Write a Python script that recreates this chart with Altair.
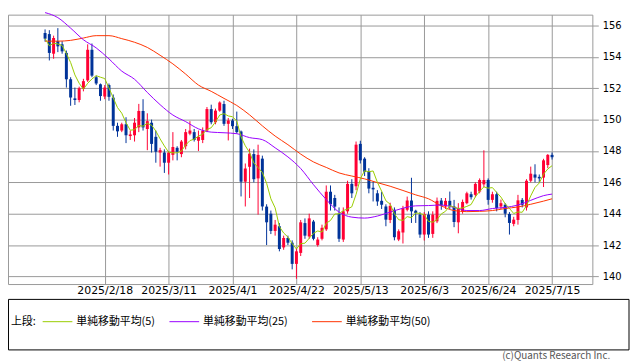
import altair as alt
import numpy as np
import pandas as pd

# ---------------- data ----------------
dates = pd.bdate_range("2025-01-29", "2025-07-15")

opens = [155.52, 155.45, 154.2, 155.0, 154.8, 154.25, 152.57, 151.35, 151.25, 151.95,
         152.5, 154.45, 152.7, 152.25, 151.47, 152.2, 151.4, 149.6, 149.3, 149.7,
         148.95, 149.0, 149.5, 150.55, 149.4, 149.8, 148.9, 147.9, 147.9, 147.25,
         147.75, 148.2, 147.8, 148.3, 149.1, 149.2, 148.65, 148.7, 149.3, 150.67,
         149.83, 150.57, 150.99, 149.73, 149.94, 149.58, 149.24, 146.04, 146.99, 147.8,
         146.25, 147.51, 144.45, 144.0, 142.9, 143.2, 141.85, 142.45, 142.15, 140.8,
         141.5, 143.4, 142.55, 143.5, 142.0, 142.4, 143.0, 145.4, 145.0, 144.0,
         142.35, 144.15, 145.9, 145.75, 148.45, 147.51, 146.7, 145.65, 145.3, 144.82,
         144.46, 143.6, 144.25, 142.35, 142.8, 144.25, 144.84, 144.19, 143.94, 142.67,
         143.94, 142.71, 143.51, 144.84, 144.46, 144.82, 144.46, 143.45, 144.15, 144.67,
         145.24, 145.2, 145.41, 145.87, 146.15, 144.88, 145.24, 144.46, 144.57, 143.98,
         143.35, 143.6, 144.88, 144.4, 146.1, 146.5, 146.35, 146.3, 147.1, 147.75]
highs = [155.75, 155.7, 155.35, 155.83, 155.0, 154.4, 152.7, 152.04, 152.1, 152.6,
         154.8, 154.85, 152.8, 152.3, 152.2, 152.3, 151.6, 149.8, 149.8, 150.15,
         149.3, 150.1, 151.0, 151.3, 150.4, 150.0, 149.3, 148.2, 148.1, 148.0,
         149.2, 148.3, 148.7, 149.4, 149.9, 149.4, 149.3, 149.5, 150.8, 150.95,
         150.7, 151.16, 151.2, 150.1, 150.05, 150.51, 149.3, 147.2, 148.15, 148.1,
         148.4, 147.7, 144.6, 144.2, 143.6, 143.4, 142.6, 142.6, 142.3, 141.8,
         143.6, 143.7, 144.0, 143.6, 142.5, 143.3, 145.8, 145.8, 145.2, 144.4,
         144.4, 146.1, 146.2, 148.6, 148.65, 147.6, 146.9, 146.04, 145.5, 145.4,
         144.6, 144.7, 144.4, 143.0, 144.5, 145.09, 146.29, 144.25, 144.1, 144.1,
         144.15, 144.15, 145.03, 145.0, 145.0, 145.41, 144.88, 144.67, 144.9, 145.4,
         145.4, 146.0, 146.25, 148.04, 146.25, 145.4, 145.4, 144.9, 144.67, 144.1,
         143.8, 145.2, 145.0, 146.2, 147.0, 147.15, 146.5, 147.5, 147.8, 147.9]
lows = [154.97, 153.77, 153.88, 154.3, 154.2, 152.04, 150.88, 150.93, 151.1, 151.8,
        152.4, 152.7, 152.2, 151.2, 151.3, 151.2, 149.3, 148.9, 149.2, 148.5,
        148.7, 148.6, 149.2, 149.3, 148.05, 147.9, 147.25, 147.0, 146.6, 146.5,
        147.4, 147.4, 147.6, 148.1, 149.0, 148.6, 148.0, 148.5, 149.2, 149.7,
        149.7, 150.5, 149.6, 148.67, 149.4, 149.1, 145.1, 144.46, 145.0, 146.0,
        143.94, 144.2, 142.0, 142.7, 142.6, 141.6, 141.7, 142.0, 140.45, 139.85,
        141.3, 142.4, 142.4, 142.3, 141.9, 142.3, 142.9, 144.2, 144.2, 142.2,
        142.2, 144.0, 145.0, 145.5, 147.2, 146.4, 145.3, 144.78, 144.5, 144.3,
        143.2, 143.4, 142.3, 142.25, 142.1, 144.15, 143.41, 143.41, 142.46, 142.29,
        142.46, 142.46, 143.4, 144.25, 144.3, 144.3, 143.14, 142.75, 144.0, 144.6,
        144.9, 145.05, 145.3, 145.7, 144.57, 144.7, 144.15, 144.3, 143.77, 142.67,
        143.2, 143.3, 144.4, 144.2, 146.0, 146.0, 146.0, 145.7, 146.9, 147.45]
closes = [155.16, 154.25, 155.2, 154.67, 154.35, 152.57, 151.41, 151.25, 152.0, 152.45,
          154.45, 152.8, 152.3, 151.5, 152.04, 151.45, 149.6, 149.25, 149.7, 149.0,
          149.05, 149.8, 150.55, 149.5, 149.9, 148.45, 147.95, 148.05, 147.25, 147.9,
          148.25, 147.95, 148.6, 149.2, 149.3, 148.7, 148.9, 149.3, 150.67, 149.83,
          150.57, 151.09, 149.73, 149.94, 149.58, 149.2, 146.04, 146.88, 147.83, 146.2,
          147.75, 144.46, 143.45, 142.9, 143.3, 141.75, 142.45, 142.15, 140.8, 141.6,
          143.45, 142.6, 143.7, 142.4, 142.35, 143.1, 145.4, 144.6, 144.45, 142.4,
          144.15, 145.9, 145.3, 148.4, 147.4, 146.67, 145.6, 145.55, 144.78, 144.57,
          143.62, 144.5, 142.5, 142.88, 144.35, 144.84, 144.15, 144.04, 142.67, 143.98,
          142.67, 143.94, 144.82, 144.52, 144.82, 144.46, 143.47, 144.35, 144.75, 145.3,
          145.05, 145.9, 146.15, 146.15, 144.88, 145.24, 144.36, 144.67, 144.0, 143.41,
          143.62, 144.85, 144.57, 146.1, 146.55, 146.3, 146.25, 147.4, 147.75, 147.6]

ma25_idx = [0, 3, 6, 9, 12, 15, 18, 21, 24, 27, 30, 33, 36, 39, 42, 45, 48, 51, 54, 57,
            60, 63, 66, 69, 72, 75, 78, 81, 84, 87, 90, 93, 96, 99, 102, 105, 108, 111,
            114, 117, 119]
ma25_val = [156.82, 156.5, 155.83, 155.09, 154.57, 153.87, 153.09, 152.57, 151.73, 150.95,
            150.29, 149.87, 149.41, 149.2, 149.16, 149.1, 148.85, 148.72, 148.2, 147.62,
            146.88, 145.85, 144.9, 144.1, 143.78, 143.72, 143.85, 144.1, 144.35, 144.5,
            144.52, 144.55, 144.4, 144.2, 144.2, 144.33, 144.4, 144.55, 144.85, 145.15,
            145.25]
ma50_idx = ma25_idx
ma50_val = [155.0, 155.0, 155.05, 155.2, 155.35, 155.35, 155.16, 154.93, 154.6, 154.1,
            153.55, 152.9, 152.2, 151.8, 151.35, 150.9, 150.3, 149.6, 148.95, 148.4,
            147.8, 147.3, 146.95, 146.6, 146.4, 146.22, 145.98, 145.75, 145.48, 145.2,
            144.95, 144.5, 144.2, 144.13, 144.15, 144.2, 144.33, 144.43, 144.6, 144.8,
            144.95]

tick_labels = ["2025/2/18", "2025/3/11", "2025/4/1", "2025/4/22",
               "2025/5/13", "2025/6/3", "2025/6/24", "2025/7/15"]
y_ticks = [140, 142, 144, 146, 148, 150, 152, 154, 156]

legend_title = "上段:"
legend_labels = ["単純移動平均(5)", "単純移動平均(25)", "単純移動平均(50)"]
copyright_text = "(c)Quants Research Inc."

# ---------------- styles ----------------
RED = "#FF0033"
BLUE = "#003399"
C5 = "#99CC00"
C25 = "#9900FF"
C50 = "#FF3300"
GRID = "#999999"

df = pd.DataFrame({
    "idx": np.arange(len(dates)),
    "open": opens, "high": highs, "low": lows, "close": closes,
})
df["dir"] = np.where(df["close"] >= df["open"], "up", "down")
ma25_df = pd.DataFrame({"idx": ma25_idx, "val": ma25_val})
ma50_df = pd.DataFrame({"idx": ma50_idx, "val": ma50_val})

tick_dates = pd.to_datetime(tick_labels, format="%Y/%m/%d")
tick_idx = [int(dates.get_loc(d)) for d in tick_dates]
expr = "''"
for i, lab in reversed(list(zip(tick_idx, tick_labels))):
    expr = f"datum.value == {i} ? '{lab}' : ({expr})"

xscale = alt.Scale(domain=[-7.54, 127.3], nice=False, zero=False)
yscale = alt.Scale(domain=[139.514, 156.69], nice=False, zero=False)

xaxis = alt.Axis(values=tick_idx, labelExpr=expr, grid=True, gridColor=GRID,
                 gridWidth=1, domain=False, ticks=False, labelPadding=1,
                 labelFont="DejaVu Sans", labelFontSize=11, labelColor="#000000",
                 labelOverlap=False, labelFlush=False, title=None)
yaxis = alt.Axis(orient="right", values=y_ticks, grid=True, gridColor=GRID,
                 gridWidth=1, domain=False, tickColor=GRID, tickSize=6,
                 labelPadding=4, labelFont="DejaVu Sans", labelFontSize=10,
                 labelColor="#000000", labelOverlap=False, title=None)

color = alt.Color("dir:N", scale=alt.Scale(domain=["up", "down"], range=[RED, BLUE]),
                  legend=None)


def qx(field="idx"):
    return alt.X(f"{field}:Q", scale=xscale, axis=xaxis)


def qy(field):
    return alt.Y(f"{field}:Q", scale=yscale, axis=yaxis)


wicks = alt.Chart(df).mark_rule(strokeWidth=1).encode(
    x=qx(), y=qy("low"), y2="high:Q", color=color,
)
bodies = alt.Chart(df).mark_bar(size=3).encode(
    x=qx(), y=qy("open"), y2="close:Q", color=color,
)
ma50 = alt.Chart(ma50_df).mark_line(color=C50, strokeWidth=1, interpolate="monotone").encode(
    x=qx(), y=qy("val"))
ma25 = alt.Chart(ma25_df).mark_line(color=C25, strokeWidth=1, interpolate="monotone").encode(
    x=qx(), y=qy("val"))
ma5 = alt.Chart(df).transform_window(
    ma5="mean(close)", frame=[-4, 0], sort=[alt.SortField("idx")]
).mark_line(color=C5, strokeWidth=1).encode(x=qx(), y=qy("ma5"))

one = pd.DataFrame({"k": [0]})
box = alt.Chart(one).mark_rect(filled=False, stroke="#000000", strokeWidth=1).encode(
    x=alt.value(0.5), x2=alt.value(627), y=alt.value(287.5), y2=alt.value(338.5))

LY = 310
TXT = dict(font="Noto Sans CJK JP", fontSize=11, color="#000000", align="left",
           baseline="middle")
leg_title = alt.Chart(one).mark_text(text=legend_title, **TXT).encode(
    x=alt.value(3), y=alt.value(LY))
leg = []
for lab, col, x0 in zip(legend_labels, [C5, C25, C50], [35, 163, 307]):
    leg.append(alt.Chart(one).mark_rule(color=col, strokeWidth=1).encode(
        x=alt.value(x0), x2=alt.value(x0 + 30), y=alt.value(LY)))
    leg.append(alt.Chart(one).mark_text(text=lab, **TXT).encode(
        x=alt.value(x0 + 34), y=alt.value(LY)))
copy = alt.Chart(one).mark_text(text=copyright_text, font="Noto Sans CJK JP", fontSize=10,
                                color="#555555", align="right", baseline="middle").encode(
    x=alt.value(608), y=alt.value(345))

chart = alt.layer(wicks, bodies, ma50, ma25, ma5, box, leg_title, *leg, copy).properties(
    width=590, height=272, padding=0
).configure_view(stroke=GRID, strokeWidth=1)

chart.save("out.html", embed_options={"renderer": "svg", "actions": False})
